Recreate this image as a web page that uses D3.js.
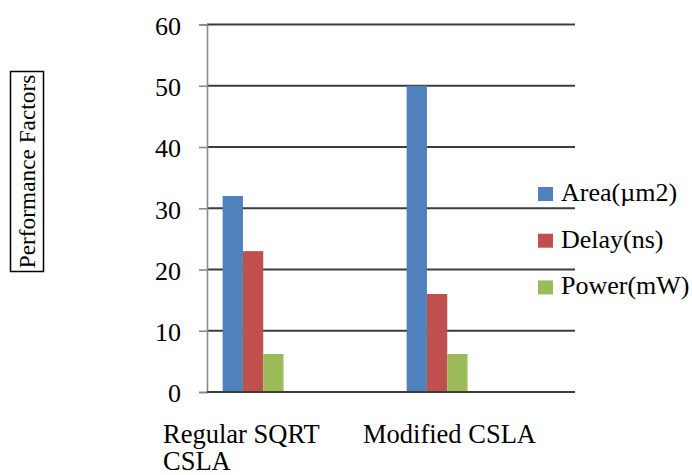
<!DOCTYPE html>
<html>
<head>
<meta charset="utf-8">
<script src="https://cdn.jsdelivr.net/npm/d3@7"></script>
<style>
  html, body { margin: 0; padding: 0; background: #fff; }
  svg { display: block; }
  svg text { font-family: "Liberation Serif", "Times New Roman", serif; }
</style>
</head>
<body>
<svg id="chart" width="692" height="475"></svg>
<script>
// ---- data ----
const categories = ["Regular SQRT CSLA", "Modified CSLA"];
const categoryLines = [["Regular SQRT", "CSLA"], ["Modified CSLA"]];
const seriesNames = ["Area(\u00b5m2)", "Delay(ns)", "Power(mW)"];
const seriesColors = ["#4f81bd", "#c0504d", "#9bbb59"];
const areaValues = [32, 50];
const delayValues = [23, 16];
const powerValues = [6.2, 6.2];
const yTicks = [0, 10, 20, 30, 40, 50, 60];
const yTitle = "Performance Factors";

const seriesValues = [areaValues, delayValues, powerValues];

const svg = d3.select("#chart");

// ---- scales ----
const plotLeft = 207, plotRight = 575, plotTop = 24.5, plotBottom = 392;
const y = d3.scaleLinear().domain([0, 60]).range([plotBottom, plotTop]);
const x0 = d3.scaleBand().domain(categories).range([plotLeft, plotRight]).padding(0);
const bw = x0.bandwidth();
const clusterOffset = bw * 0.085;
const x1 = d3.scaleBand().domain(seriesNames).range([0, bw * 0.331]).padding(0);

// ---- gridlines ----
svg.append("g")
  .selectAll("line")
  .data(yTicks)
  .join("line")
  .attr("x1", plotLeft)
  .attr("x2", plotRight)
  .attr("y1", d => y(d))
  .attr("y2", d => y(d))
  .attr("stroke", "#3c3c3c")
  .attr("stroke-width", 2);

// ---- y axis ----
const yAxis = d3.axisLeft(y).tickValues(yTicks).tickSize(8).tickPadding(18).tickFormat(d3.format("d"));
const gy = svg.append("g").attr("transform", `translate(${plotLeft},0)`).call(yAxis);
gy.attr("font-family", null);
gy.select(".domain").attr("stroke", "#8a8a8a").attr("stroke-width", 1.6);
gy.selectAll(".tick line").attr("stroke", "#8a8a8a").attr("stroke-width", 1.6);
gy.selectAll(".tick text")
  .attr("font-size", 26)
  .attr("fill", "#000")
  .attr("dy", "0.38em");

// ---- bars ----
const groups = svg.append("g")
  .selectAll("g")
  .data(categories)
  .join("g")
  .attr("transform", d => `translate(${x0(d) + clusterOffset},0)`);

groups.selectAll("rect")
  .data((c, ci) => seriesNames.map((s, si) => ({ s, si, v: seriesValues[si][ci] })))
  .join("rect")
  .attr("x", d => x1(d.s))
  .attr("width", x1.bandwidth())
  .attr("y", d => y(d.v))
  .attr("height", d => y(0) - y(d.v))
  .attr("fill", d => seriesColors[d.si]);

// baseline redraw on top
svg.append("line")
  .attr("x1", plotLeft).attr("x2", plotRight)
  .attr("y1", y(0)).attr("y2", y(0))
  .attr("stroke", "#3c3c3c").attr("stroke-width", 2);

// ---- category labels ----
const labelDx = [-44, -28];
svg.append("g")
  .selectAll("text")
  .data(categories)
  .join("text")
  .attr("x", (d, i) => x0(d) + labelDx[i])
  .attr("y", 443)
  .attr("font-size", 26.5)
  .attr("fill", "#000")
  .each(function (d, i) {
    const t = d3.select(this);
    categoryLines[i].forEach((line, li) => {
      t.append("tspan")
        .attr("x", x0(d) + labelDx[i])
        .attr("dy", li === 0 ? 0 : 27)
        .text(line);
    });
  });

// ---- legend ----
const legend = svg.append("g").attr("transform", "translate(538,201)");
const items = legend.selectAll("g")
  .data(seriesNames)
  .join("g")
  .attr("transform", (d, i) => `translate(0,${i * 46.7})`);
items.append("rect")
  .attr("x", 0).attr("y", -14)
  .attr("width", 15).attr("height", 14)
  .attr("fill", (d, i) => seriesColors[i]);
items.append("text")
  .attr("x", 23).attr("y", 0)
  .attr("font-size", 26)
  .attr("fill", "#000")
  .text(d => d);

// ---- y title (boxed) ----
const titleG = svg.append("g");
titleG.append("rect")
  .attr("x", 10.5).attr("y", 71.5)
  .attr("width", 33).attr("height", 200)
  .attr("fill", "none")
  .attr("stroke", "#000")
  .attr("stroke-width", 1.5);
titleG.append("text")
  .attr("transform", "translate(34.5,171.5) rotate(-90)")
  .attr("text-anchor", "middle")
  .attr("font-size", 23.3)
  .attr("fill", "#000")
  .text(yTitle);
</script>
</body>
</html>
